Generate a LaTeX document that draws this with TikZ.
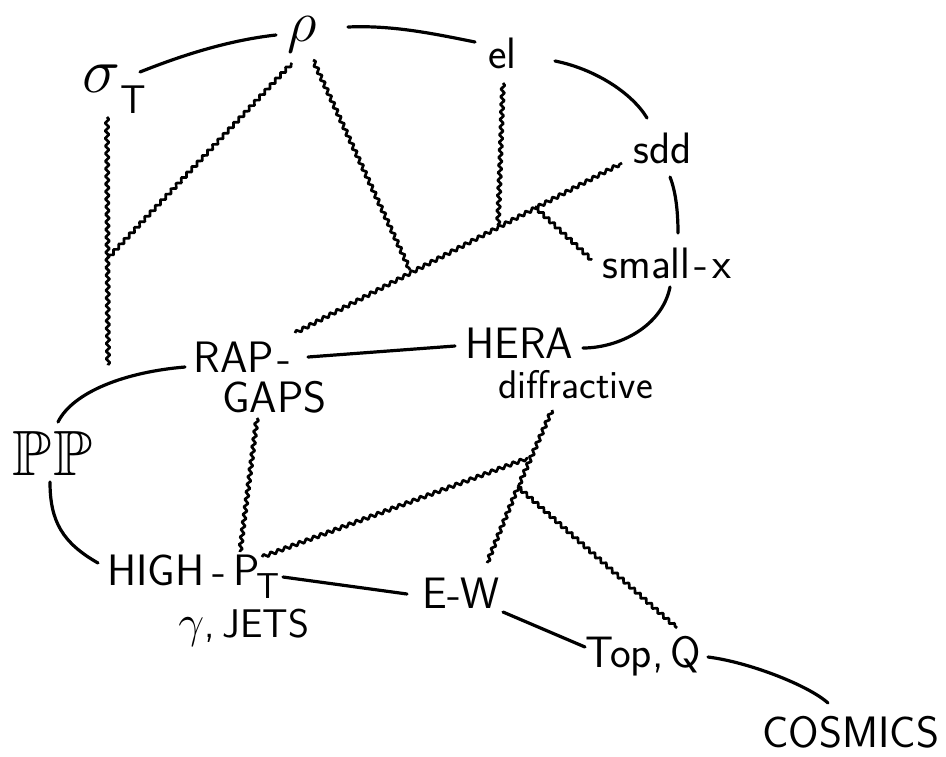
\RequirePackage{fix-cm}
\documentclass[tikz,border=0pt]{standalone}
\usepackage{amssymb}
\usetikzlibrary{decorations.pathmorphing}
\tikzset{
  lbl/.style={inner sep=0pt, anchor=base west, font=\sffamily\fontsize{22}{22}\selectfont},
  smalllbl/.style={lbl, font=\sffamily\fontsize{20}{20}\selectfont},
  link/.style={line width=1.6pt, line cap=round},
  wave/.style={line width=1.35pt, line join=round, decorate,
    decoration={snake, amplitude=0.95pt, segment length=3.8pt}},
}
\begin{document}
\begin{tikzpicture}[x=0.5pt, y=-0.5pt]
\useasboundingbox (0,0) rectangle (946,756);

% topics
\node[lbl] (sT) at (82,92) {\fontsize{32}{32}\selectfont$\sigma$\raisebox{-10.5pt}{\fontsize{20}{20}\selectfont T}};
\node[lbl] (rho) at (287,41) {\fontsize{29}{29}\selectfont$\rho$};
\node[lbl] (el) at (488,68) {el};
\node[lbl] (sdd) at (633,163) {sdd};
\node[lbl] (smallx) at (602,278) {small\kern2pt-\kern2pt x};
\node[lbl] (rap) at (193,372) {RAP\kern2pt-};
\node[lbl] (gaps) at (222,412) {GAPS};
\node[lbl] (hera) at (465,358) {HERA};
\node[smalllbl] (diff) at (498,398) {diffractive};
\node[lbl] (PP) at (12,475) {\fontsize{32}{32}\selectfont$\mathbb{P}\kern1pt\mathbb{P}$};
\node[lbl] (high) at (107,585) {HIGH\,-\,P\kern-1.5pt\raisebox{-6.5pt}{\fontsize{18}{18}\selectfont T}};
\node[lbl, font=\sffamily\fontsize{20}{20}\selectfont] (jets) at (178,637) {\fontsize{23}{23}\selectfont$\gamma$\fontsize{20}{20}\selectfont,\kern4pt JETS};
\node[lbl] (ew) at (422,608) {E-W};
\node[lbl] (top) at (585,667) {Top,\,Q};
\node[lbl] (cosmics) at (762,747) {COSMICS};

% junctions of the wavy lines
\coordinate (j1) at (108,258);
\coordinate (sTfoot) at (108,365);
\coordinate (j2) at (410,270);
\coordinate (j3) at (498,225);
\coordinate (j4) at (535,207);
\coordinate (j5) at (528,458);
\coordinate (j6) at (518,487);

% solid links
\draw[link] ([shift={(58,-20)}]sT.base west) .. controls +(45,-18) and +(-45,5) .. ([shift={(-11,-6)}]rho.base west);
\draw[link] ([shift={(61,-14)}]rho.base west) .. controls +(45,-2) and +(-40,-8) .. ([shift={(-13,-26)}]el.base west);
\draw[link] ([shift={(67,-7)}]el.base west) .. controls +(40,8) and +(-15,-25) .. ([shift={(14,-45)}]sdd.base west);
\draw[link] ([shift={(37,14)}]sdd.base west) .. controls +(6,15) and +(0,-20) .. ([shift={(76,-45)}]smallx.base west);
\draw[link] ([shift={(68,9)}]smallx.base west) .. controls +(-8,40) and +(35,0) .. ([shift={(118,-10)}]hera.base west);
\draw[link] ([shift={(-10,-12)}]hera.base west) -- ([shift={(115,-15)}]rap.base west);
\draw[link] ([shift={(-8,-5)}]rap.base west) .. controls +(-60,5) and +(15,-30) .. ([shift={(46,-53)}]PP.base west);
\draw[link] ([shift={(38,7)}]PP.base west) .. controls +(0,40) and +(-35,-20) .. ([shift={(-9,-22)}]high.base west);
\draw[link] ([shift={(176,-8)}]high.base west) -- ([shift={(-15,-14)}]ew.base west);
\draw[link] ([shift={(81,4)}]ew.base west) -- ([shift={(0,-20)}]top.base west);
\draw[link] ([shift={(123,-10)}]top.base west) .. controls +(40,5) and +(-20,-18) .. ([shift={(66,-44)}]cosmics.base west);

% wavy links
\draw[wave] ([shift={(25,25)}]sT.base west) -- (sTfoot);
\draw[wave] (j1) -- ([shift={(5,22)}]rho.base west);
\draw[wave] ([shift={(26,19)}]rho.base west) -- (j2);
\draw[wave] ([shift={(102,-39)}]rap.base west) -- ([shift={(-11,0)}]sdd.base west);
\draw[wave] ([shift={(15,15)}]el.base west) -- (j3);
\draw[wave] (j4) -- ([shift={(-10,-18)}]smallx.base west);
\draw[wave] ([shift={(35,6)}]gaps.base west) -- ([shift={(133,-33)}]high.base west);
\draw[wave] ([shift={(155,-28)}]high.base west) -- (j5);
\draw[wave] ([shift={(54,12)}]diff.base west) -- (j6);
\draw[wave] (j6) -- ([shift={(65,-45)}]ew.base west);
\draw[wave] (j6) -- ([shift={(92,-39)}]top.base west);
\end{tikzpicture}
\end{document}
